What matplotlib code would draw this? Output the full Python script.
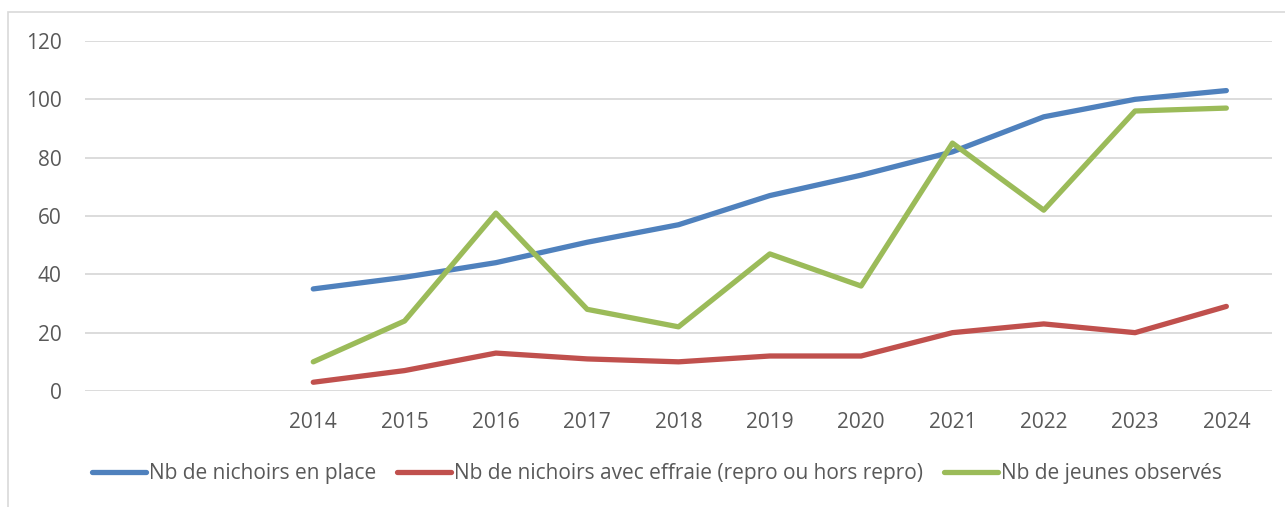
import matplotlib
matplotlib.use("Agg")
import matplotlib.pyplot as plt
from matplotlib.patches import Rectangle
import numpy as np

categories = ["", "", "2014", "2015", "2016", "2017", "2018", "2019", "2020", "2021", "2022", "2023", "2024"]
nichoirs_en_place = [None, None, 35, 39, 44, 51, 57, 67, 74, 82, 94, 100, 103]
nichoirs_effraie = [None, None, 3, 7, 13, 11, 10, 12, 12, 20, 23, 20, 29]
jeunes_observes = [None, None, 10, 24, 61, 28, 22, 47, 36, 85, 62, 96, 97]

series_names = ["Nb de nichoirs en place",
                "Nb de nichoirs avec effraie (repro ou hors repro)",
                "Nb de jeunes observés"]
colors = ["#4F81BD", "#C0504D", "#9BBB59"]
yticks = [0, 20, 40, 60, 80, 100, 120]

plt.rcParams['font.family'] = ['Open Sans', 'DejaVu Sans']
W, H = 1285, 507
fig = plt.figure(figsize=(W / 100, H / 100), dpi=100)

# outer chart frame
fig.patches.append(Rectangle((8 / W, -0.1), 1.2, 1 - 12 / H + 0.1, transform=fig.transFigure,
                             fill=False, edgecolor="#D9D9D9", linewidth=1.2))

ax = fig.add_axes([85 / W, 1 - 391 / H, (1272 - 85) / W, 350 / H])
x = np.arange(len(categories))
for vals, name, c in zip([nichoirs_en_place, nichoirs_effraie, jeunes_observes], series_names, colors):
    y = np.array([np.nan if v is None else v for v in vals], dtype=float)
    ax.plot(x, y, color=c, lw=3.8, solid_capstyle="round", solid_joinstyle="round", label=name)

ax.set_xlim(-0.5, len(categories) - 0.5)
ax.set_ylim(0, 120)
ax.set_yticks(yticks)
ax.set_xticks(x)
ax.set_xticklabels(categories)
ax.grid(axis="y", color="#D9D9D9", lw=1.3)
ax.set_axisbelow(True)
for s in ax.spines.values():
    s.set_visible(False)
ax.tick_params(axis="both", length=0, colors="#595959", labelsize=15)
ax.tick_params(axis="y", pad=17)
ax.tick_params(axis="x", pad=15)

handles, labels = ax.get_legend_handles_labels()
leg = fig.legend(handles, labels, loc="center", bbox_to_anchor=(657 / W, 1 - 474 / H), ncol=3,
                 frameon=False, fontsize=15, handlelength=2.6, handletextpad=0.15,
                 columnspacing=1.0, labelcolor="#595959")

fig.savefig("out.png", dpi=100)
